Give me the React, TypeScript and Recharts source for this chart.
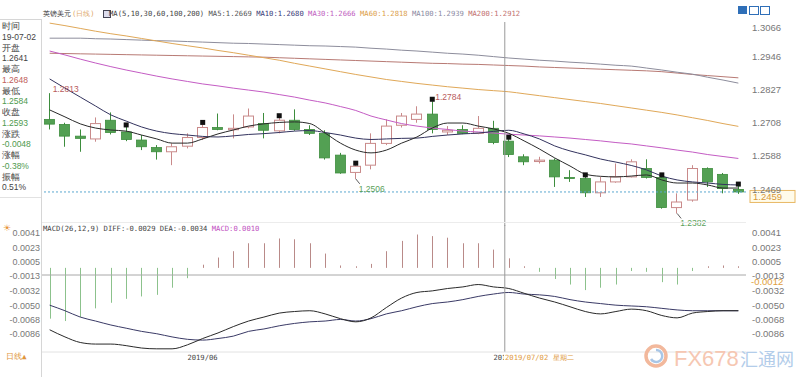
import React from 'react';
import { ComposedChart, Bar, Line, XAxis, YAxis, ReferenceLine } from 'recharts';

// ---------- data ----------
const dates = [
  '2019-05-21', '2019-05-22', '2019-05-23', '2019-05-24', '2019-05-27', '2019-05-28', '2019-05-29', '2019-05-30', '2019-05-31',
  '2019-06-03', '2019-06-04', '2019-06-05', '2019-06-06', '2019-06-07', '2019-06-10', '2019-06-11', '2019-06-12', '2019-06-13',
  '2019-06-14', '2019-06-17', '2019-06-18', '2019-06-19', '2019-06-20', '2019-06-21', '2019-06-24', '2019-06-25', '2019-06-26',
  '2019-06-27', '2019-06-28', '2019-07-01', '2019-07-02', '2019-07-03', '2019-07-04', '2019-07-05', '2019-07-08', '2019-07-09',
  '2019-07-10', '2019-07-11', '2019-07-12', '2019-07-15', '2019-07-16', '2019-07-17', '2019-07-18', '2019-07-19', '2019-07-22',
  '2019-07-23',
];
const opens = [1.2719, 1.2701, 1.2659, 1.2649, 1.2716, 1.2674, 1.2645, 1.2618, 1.2603, 1.2623, 1.2654, 1.2690, 1.2682, 1.2692, 1.2704, 1.2678, 1.2716, 1.2683, 1.2669, 1.2591, 1.2529, 1.2555, 1.2633, 1.2698, 1.2719, 1.2738, 1.2674, 1.2683, 1.2669, 1.2687, 1.2641, 1.2585, 1.2568, 1.2573, 1.2511, 1.2507, 1.2456, 1.2495, 1.2513, 1.2543, 1.2511, 1.2403, 1.2430, 1.2543, 1.2522, 1.2468];
const highs = [1.2813, 1.2707, 1.2683, 1.2726, 1.2744, 1.2692, 1.2663, 1.2627, 1.2633, 1.2669, 1.2701, 1.2740, 1.2737, 1.2758, 1.2742, 1.2725, 1.2755, 1.2698, 1.2680, 1.2599, 1.2555, 1.2669, 1.2719, 1.2742, 1.2766, 1.2784, 1.2695, 1.2698, 1.2731, 1.2714, 1.2648, 1.2594, 1.2585, 1.2579, 1.2537, 1.2513, 1.2513, 1.2561, 1.2576, 1.2576, 1.2513, 1.2454, 1.2555, 1.2547, 1.2527, 1.2480];
const lows = [1.2683, 1.2621, 1.2603, 1.2639, 1.2665, 1.2641, 1.2609, 1.2575, 1.2555, 1.2615, 1.2645, 1.2680, 1.2651, 1.2687, 1.2651, 1.2669, 1.2678, 1.2663, 1.2575, 1.2524, 1.2506, 1.2540, 1.2627, 1.2690, 1.2707, 1.2669, 1.2663, 1.2666, 1.2666, 1.2630, 1.2584, 1.2555, 1.2561, 1.2477, 1.2495, 1.2441, 1.2441, 1.2492, 1.2511, 1.2507, 1.2399, 1.2382, 1.2424, 1.2477, 1.2454, 1.2452];
const closes = [1.2702, 1.2659, 1.2651, 1.2704, 1.2672, 1.2647, 1.2621, 1.2603, 1.2621, 1.2654, 1.2690, 1.2683, 1.2687, 1.2731, 1.2680, 1.2716, 1.2683, 1.2669, 1.2581, 1.2527, 1.2551, 1.2633, 1.2695, 1.2731, 1.2738, 1.2683, 1.2680, 1.2669, 1.2687, 1.2636, 1.2593, 1.2567, 1.2573, 1.2513, 1.2507, 1.2456, 1.2495, 1.2513, 1.2567, 1.2511, 1.2403, 1.2423, 1.2543, 1.2495, 1.2471, 1.2459];

const ma5 = [1.2753, 1.2728, 1.2703, 1.2688, 1.2681, 1.2677, 1.2663, 1.2649, 1.2634, 1.2634, 1.2649, 1.2667, 1.2681, 1.2695, 1.2703, 1.2708, 1.2710, 1.2704, 1.2670, 1.2634, 1.2609, 1.2599, 1.2609, 1.2634, 1.2656, 1.2688, 1.2706, 1.2706, 1.2695, 1.2685, 1.2669, 1.2642, 1.2613, 1.2581, 1.2552, 1.2523, 1.2515, 1.2513, 1.2516, 1.2520, 1.2502, 1.2491, 1.2491, 1.2484, 1.2473, 1.2473];
const ma10 = [1.2864, 1.2831, 1.2799, 1.2767, 1.2735, 1.2713, 1.2692, 1.2677, 1.2668, 1.2663, 1.2658, 1.2656, 1.2660, 1.2665, 1.2668, 1.2672, 1.2677, 1.2679, 1.2672, 1.2663, 1.2652, 1.2647, 1.2649, 1.2651, 1.2652, 1.2658, 1.2663, 1.2667, 1.2670, 1.2676, 1.2680, 1.2667, 1.2649, 1.2624, 1.2606, 1.2592, 1.2577, 1.2566, 1.2554, 1.2538, 1.2516, 1.2502, 1.2495, 1.2491, 1.2486, 1.2484];
const ma30 = [1.2964, 1.2950, 1.2935, 1.2921, 1.2908, 1.2896, 1.2885, 1.2874, 1.2864, 1.2855, 1.2846, 1.2839, 1.2831, 1.2824, 1.2817, 1.2808, 1.2799, 1.2788, 1.2778, 1.2765, 1.2751, 1.2731, 1.2717, 1.2704, 1.2695, 1.2688, 1.2683, 1.2677, 1.2674, 1.2670, 1.2666, 1.2663, 1.2660, 1.2656, 1.2652, 1.2647, 1.2642, 1.2636, 1.2631, 1.2624, 1.2617, 1.2609, 1.2602, 1.2593, 1.2586, 1.2579];
const ma60 = [1.3064, 1.3055, 1.3045, 1.3035, 1.3026, 1.3018, 1.3009, 1.3000, 1.2991, 1.2983, 1.2975, 1.2966, 1.2958, 1.2949, 1.2940, 1.2931, 1.2920, 1.2910, 1.2900, 1.2890, 1.2880, 1.2871, 1.2862, 1.2855, 1.2848, 1.2842, 1.2836, 1.2831, 1.2826, 1.2822, 1.2818, 1.2811, 1.2804, 1.2797, 1.2790, 1.2783, 1.2776, 1.2768, 1.2760, 1.2752, 1.2744, 1.2735, 1.2725, 1.2715, 1.2704, 1.2694];
const ma100 = [1.3010, 1.3010, 1.3010, 1.3008, 1.3007, 1.3005, 1.3003, 1.3001, 1.3000, 1.2998, 1.2996, 1.2994, 1.2992, 1.2991, 1.2989, 1.2987, 1.2985, 1.2983, 1.2982, 1.2980, 1.2978, 1.2974, 1.2971, 1.2967, 1.2964, 1.2960, 1.2956, 1.2953, 1.2949, 1.2944, 1.2939, 1.2935, 1.2931, 1.2928, 1.2924, 1.2921, 1.2917, 1.2913, 1.2910, 1.2903, 1.2896, 1.2888, 1.2881, 1.2870, 1.2860, 1.2849];
const ma200 = [1.2956, 1.2955, 1.2954, 1.2953, 1.2952, 1.2951, 1.2950, 1.2949, 1.2948, 1.2947, 1.2946, 1.2945, 1.2944, 1.2943, 1.2942, 1.2940, 1.2938, 1.2936, 1.2934, 1.2932, 1.2930, 1.2928, 1.2926, 1.2924, 1.2922, 1.2920, 1.2919, 1.2917, 1.2916, 1.2914, 1.2912, 1.2910, 1.2907, 1.2905, 1.2903, 1.2901, 1.2899, 1.2897, 1.2895, 1.2893, 1.2890, 1.2885, 1.2880, 1.2876, 1.2872, 1.2868];

const macdHist = [-0.0064, -0.0067, -0.0062, -0.0051, -0.0044, -0.0039, -0.0036, -0.0034, -0.0025, -0.0013, 0.0004, 0.0013, 0.0021, 0.0031, 0.0031, 0.0037, 0.0036, 0.0031, 0.0018, 0.0003, 0.0002, 0.0005, 0.0021, 0.0034, 0.0042, 0.0040, 0.0038, 0.0031, 0.0031, 0.0023, 0.0012, 0.0002, -0.0005, -0.0014, -0.0021, -0.0028, -0.0025, -0.0021, -0.0004, -0.0005, -0.0018, -0.0021, -0.0004, 0.0002, 0.0003, 0.0002];
const diff = [-0.0081, -0.0090, -0.0097, -0.0099, -0.0099, -0.0101, -0.0104, -0.0105, -0.0105, -0.0100, -0.0092, -0.0085, -0.0077, -0.0070, -0.0065, -0.0060, -0.0058, -0.0057, -0.0061, -0.0067, -0.0071, -0.0066, -0.0053, -0.0041, -0.0034, -0.0032, -0.0029, -0.0027, -0.0024, -0.0027, -0.0029, -0.0035, -0.0041, -0.0046, -0.0052, -0.0058, -0.0061, -0.0058, -0.0055, -0.0057, -0.0063, -0.0066, -0.0060, -0.0058, -0.0057, -0.0057];
const dea = [-0.0050, -0.0057, -0.0065, -0.0070, -0.0075, -0.0079, -0.0083, -0.0086, -0.0090, -0.0093, -0.0094, -0.0092, -0.0089, -0.0083, -0.0080, -0.0076, -0.0073, -0.0071, -0.0070, -0.0068, -0.0070, -0.0067, -0.0061, -0.0057, -0.0052, -0.0048, -0.0046, -0.0043, -0.0039, -0.0036, -0.0034, -0.0036, -0.0037, -0.0039, -0.0043, -0.0046, -0.0048, -0.0050, -0.0051, -0.0052, -0.0054, -0.0056, -0.0057, -0.0057, -0.0057, -0.0057];

const priceTicks = [1.2469, 1.2588, 1.2708, 1.2827, 1.2946, 1.3066];
const priceDomain = [1.2337, 1.3068];
const macdTicks = [0.0041, 0.0023, 0.0005, -0.0013, -0.0032, -0.005, -0.0068, -0.0086];
const macdDomain = [-0.0109, 0.0051];
const histDomain = [-0.0106, 0.0054];
const markerIdx = [5, 10, 15, 20, 25, 30, 35, 40, 45];
const highLabelIdx = [0, 25];
const lowLabelIdx = [20, 41];
const monthTicks = ['2019-06-03', '2019-07-01'];
const monthLabels = ['2019/06', '2019/07'];
const crossIdx = 30;
const crossDateLabel = '2019/07/02 星期二';
const currentPrice = 1.2459;
const crossMacd = -0.0012;

const infoLabels = ['时间', '开盘', '最高', '最低', '收盘', '涨跌', '涨幅', '振幅'];
const infoValues = ['19-07-02', '1.2641', '1.2648', '1.2584', '1.2593', '-0.0048', '-0.38%', '0.51%'];
const infoColors = ['#444', '#444', '#c0605a', '#4e9a4e', '#4e9a4e', '#4e9a4e', '#4e9a4e', '#444'];

const maHeader = [
  { t: 'MA5:1.2669', c: '#555' },
  { t: 'MA10:1.2680', c: '#3a3a78' },
  { t: 'MA30:1.2666', c: '#c05ec0' },
  { t: 'MA60:1.2818', c: '#dca04a' },
  { t: 'MA100:1.2939', c: '#8a8aa2' },
  { t: 'MA200:1.2912', c: '#c27070' },
];

// ---------- styles ----------
const MONO = '"DejaVu Sans Mono", "Liberation Mono", monospace';
const SANS = '"Liberation Sans", Arial, sans-serif';
const UP = '#c98a8a';
const DOWN_FILL = '#53a053';
const DOWN_STROKE = '#3d8d3d';
const C_MA5 = '#2a2a2a';
const C_MA10 = '#33335e';
const C_MA30 = '#c45cc4';
const C_MA60 = '#e0a858';
const C_MA100 = '#8d8d9c';
const C_MA200 = '#b87a74';

const priceRows = dates.map((d, i) => ({
  date: d,
  range: [lows[i], highs[i]],
  open: opens[i],
  high: highs[i],
  low: lows[i],
  close: closes[i],
  ma5: ma5[i],
  ma10: ma10[i],
  ma30: ma30[i],
  ma60: ma60[i],
  ma100: ma100[i],
  ma200: ma200[i],
  mark: markerIdx.includes(i) ? highs[i] : null,
  hiLab: highLabelIdx.includes(i) ? highs[i] : null,
  loLab: lowLabelIdx.includes(i) ? lows[i] : null,
}));

const macdRows = dates.map((d, i) => ({ date: d, hist: macdHist[i], diff: diff[i], dea: dea[i] }));

function Candle(props: any) {
  const { x, y, width, height, payload } = props;
  if (!payload || x == null || y == null) return <g />;
  const { open, close, high, low } = payload;
  const top = Math.min(y, y + height);
  const bot = Math.max(y, y + height);
  const k = high > low ? (bot - top) / (high - low) : 0;
  const py = (v: number) => top + (high - v) * k;
  const left = Math.round(x) + 0.5;
  const w = Math.round(width) - 1;
  const cx = left + Math.round(w / 2);
  const bTop = py(Math.max(open, close));
  const bBot = py(Math.min(open, close));
  const bh = Math.max(1, bBot - bTop);
  if (close > open) {
    return (
      <g>
        <line x1={cx} x2={cx} y1={top} y2={bTop} stroke={UP} />
        <line x1={cx} x2={cx} y1={bTop + bh} y2={bot} stroke={UP} />
        <rect x={left} y={bTop} width={w} height={bh} fill="#fff" stroke={UP} />
      </g>
    );
  }
  return (
    <g>
      <line x1={cx} x2={cx} y1={top} y2={bot} stroke={DOWN_STROKE} />
      <rect x={left} y={bTop} width={w} height={bh} fill={DOWN_FILL} stroke={DOWN_STROKE} strokeWidth={0.8} />
    </g>
  );
}

function HistBar(props: any) {
  const { x, y, width, height, payload } = props;
  if (!payload || x == null || y == null) return <g />;
  const cx = Math.round(x + width / 2) + 0.5;
  return (
    <line x1={cx} x2={cx} y1={y} y2={y + height} stroke={payload.hist >= 0 ? '#b98a88' : '#8cc28c'} strokeWidth={1} />
  );
}

const markDot = (p: any) => {
  const { cx, cy, payload, index } = p;
  if (!payload || payload.mark == null || cy == null || isNaN(cy)) return <g key={`m${index}`} />;
  return <rect key={`m${index}`} x={cx - 2.5} y={cy - 4.5} width={5} height={5} fill="#111" />;
};

const hiDot = (p: any) => {
  const { cx, cy, payload, index } = p;
  if (!payload || payload.hiLab == null || cy == null || isNaN(cy)) return <g key={`h${index}`} />;
  return (
    <text key={`h${index}`} x={cx + 3} y={cy - 1} fontSize={8.5} fill="#b85c5c" fontFamily={SANS}>
      {payload.hiLab.toFixed(4)}
    </text>
  );
};

const loDot = (p: any) => {
  const { cx, cy, payload, index } = p;
  if (!payload || payload.loLab == null || cy == null || isNaN(cy)) return <g key={`l${index}`} />;
  return (
    <g key={`l${index}`}>
      <line x1={cx} y1={cy} x2={cx + 4} y2={cy + 5} stroke="#333" strokeWidth={0.8} />
      <text x={cx + 3} y={cy + 13} fontSize={8.5} fill="#5a9f5a" fontFamily={SANS}>
        {payload.loLab.toFixed(4)}
      </text>
    </g>
  );
};

const PriceTick = (p: any) => {
  const { x, y, payload } = p;
  const isTop = payload.value >= priceTicks[priceTicks.length - 1];
  return (
    <text x={x} y={y} dy={isTop ? 8 : 3.5} textAnchor="start" fontSize={9.5} fill="#777" fontFamily={SANS}>
      {Number(payload.value).toFixed(4)}
    </text>
  );
};

const MacdTickL = (p: any) => {
  const { x, y, payload } = p;
  return (
    <text x={x} y={y} dy={3.5} textAnchor="end" fontSize={9} fill="#777" fontFamily={SANS}>
      {Number(payload.value).toFixed(4)}
    </text>
  );
};

const MacdTickR = (p: any) => {
  const { x, y, payload } = p;
  return (
    <text x={x} y={y} dy={3.5} textAnchor="start" fontSize={9.5} fill="#777" fontFamily={SANS}>
      {Number(payload.value).toFixed(4)}
    </text>
  );
};

const DateTick = (p: any) => {
  const { x, y, payload } = p;
  const idx = monthTicks.indexOf(payload.value);
  return (
    <text x={x} y={y} dy={0} textAnchor="start" fontSize={7.2} fill="#444" fontFamily={MONO}>
      {idx >= 0 ? monthLabels[idx] : ''}
    </text>
  );
};

const vLine = (p: any) => (
  <line x1={p.x1 - 4} x2={p.x2 - 4} y1={p.y1} y2={p.y2} stroke="#9a9a9a" strokeWidth={1} />
);

const priceLabel = (p: any) => {
  const vb = p.viewBox || {};
  const rx = vb.x + vb.width + 4;
  return (
    <g>
      <rect x={rx} y={vb.y - 1.5} width={45} height={12} fill="#fffbea" stroke="#e8b865" strokeWidth={1} />
      <text x={rx + 3} y={vb.y + 8} fontSize={9.5} fill="#d89a3a" fontFamily={SANS}>
        {currentPrice.toFixed(4)}
      </text>
    </g>
  );
};

const macdCrossLabel = (p: any) => {
  const vb = p.viewBox || {};
  const rx = vb.x + vb.width + 3;
  return (
    <g>
      <rect x={rx} y={vb.y + 1.5} width={48} height={10} fill="#fff" />
      <text x={rx + 2} y={vb.y + 10} fontSize={9.5} fill="#e0a040" fontFamily={SANS}>
        {crossMacd.toFixed(4)}
      </text>
    </g>
  );
};

const abs = (l: number, t: number, extra: any = {}) => ({ position: 'absolute' as const, left: l, top: t, ...extra });

export default function App() {
  return (
    <div style={{ position: 'absolute', left: 0, top: 0, width: 800, height: 377, background: '#fff', overflow: 'hidden', fontFamily: SANS }}>
      {/* price panel */}
      <div style={abs(0, 0)}>
        <ComposedChart width={800} height={240} data={priceRows} margin={{ top: 22, right: 0, bottom: 14, left: 42 }}>
          <XAxis dataKey="date" hide />
          <YAxis
            orientation="right"
            width={54}
            domain={priceDomain}
            ticks={priceTicks}
            interval={0}
            allowDataOverflow
            tick={<PriceTick />}
            tickLine={false}
            axisLine={false}
            tickSize={0}
            tickMargin={6}
          />
          <ReferenceLine y={currentPrice} stroke="#5aa8cf" strokeDasharray="2 2" label={priceLabel} />
          <Line dataKey="ma200" type="monotone" stroke={C_MA200} strokeWidth={1} dot={false} activeDot={false} isAnimationActive={false} />
          <Line dataKey="ma100" type="monotone" stroke={C_MA100} strokeWidth={1} dot={false} activeDot={false} isAnimationActive={false} />
          <Line dataKey="ma60" type="monotone" stroke={C_MA60} strokeWidth={1} dot={false} activeDot={false} isAnimationActive={false} />
          <Line dataKey="ma30" type="monotone" stroke={C_MA30} strokeWidth={1} dot={false} activeDot={false} isAnimationActive={false} />
          <Bar dataKey="range" barSize={11} shape={(p: any) => <Candle {...p} />} isAnimationActive={false} />
          <Line dataKey="ma10" type="monotone" stroke={C_MA10} strokeWidth={1} dot={false} activeDot={false} isAnimationActive={false} />
          <Line dataKey="ma5" type="monotone" stroke={C_MA5} strokeWidth={1} dot={false} activeDot={false} isAnimationActive={false} />
          <Line dataKey="mark" stroke="none" dot={markDot} activeDot={false} isAnimationActive={false} />
          <Line dataKey="hiLab" stroke="none" dot={hiDot} activeDot={false} isAnimationActive={false} />
          <Line dataKey="loLab" stroke="none" dot={loDot} activeDot={false} isAnimationActive={false} />
          <ReferenceLine x={dates[crossIdx]} shape={vLine} />
        </ComposedChart>
      </div>

      {/* MACD panel */}
      <div style={abs(0, 220)}>
        <ComposedChart width={800} height={157} data={macdRows} margin={{ top: 5, right: 0, bottom: 0, left: 0 }}>
          <XAxis
            dataKey="date"
            ticks={monthTicks}
            interval={0}
            tick={<DateTick />}
            tickLine={false}
            axisLine={{ stroke: '#e2e2e2' }}
            tickSize={0}
            tickMargin={8}
            height={25}
          />
          <YAxis
            yAxisId="m"
            orientation="left"
            width={42}
            domain={macdDomain}
            ticks={macdTicks}
            interval={0}
            allowDataOverflow
            tick={<MacdTickL />}
            tickLine={false}
            axisLine={false}
            tickSize={0}
            tickMargin={2}
          />
          <YAxis
            yAxisId="r"
            orientation="right"
            width={54}
            domain={macdDomain}
            ticks={macdTicks}
            interval={0}
            allowDataOverflow
            tick={<MacdTickR />}
            tickLine={false}
            axisLine={false}
            tickSize={0}
            tickMargin={6}
          />
          <YAxis yAxisId="hist" orientation="right" hide width={0} domain={histDomain} allowDataOverflow />
          <ReferenceLine yAxisId="m" y={crossMacd} stroke="#a8a8a8" label={macdCrossLabel} />
          <Bar yAxisId="hist" dataKey="hist" barSize={1} shape={(p: any) => <HistBar {...p} />} isAnimationActive={false} />
          <Line yAxisId="m" dataKey="dea" type="monotone" stroke="#3a3a66" strokeWidth={1} dot={false} activeDot={false} isAnimationActive={false} />
          <Line yAxisId="r" dataKey="diff" type="monotone" stroke="#2a2a2a" strokeWidth={1} dot={false} activeDot={false} isAnimationActive={false} />
          <ReferenceLine yAxisId="m" x={dates[crossIdx]} shape={vLine} />
        </ComposedChart>
      </div>

      {/* crosshair date label (drawn over the date axis) */}
      <div style={abs(504, 353, { background: '#fff', padding: '0 1px', fontFamily: MONO, fontSize: 7.2, lineHeight: '10px', color: '#e09a40', whiteSpace: 'pre' })}>
        {crossDateLabel}
      </div>

      {/* borders */}
      <div style={abs(41, 19, { width: 1, height: 358, background: '#d6d6d6' })} />
      <div style={abs(0, 19, { width: 41, height: 1, background: '#d6d6d6' })} />
      <div style={abs(0, 197, { width: 41, height: 1, background: '#e2e2e2' })} />
      <div style={abs(42, 222, { width: 704, height: 1, background: '#ececec' })} />

      {/* header */}
      <div style={abs(43, 9, { fontFamily: MONO, fontSize: 7.2, lineHeight: '10px', color: '#333', whiteSpace: 'pre' })}>
        英镑美元
      </div>
      <div style={abs(72, 9, { fontFamily: MONO, fontSize: 7.2, lineHeight: '10px', color: '#e0a868', whiteSpace: 'pre' })}>
        (日线)
      </div>
      <div style={abs(103, 10, { width: 6, height: 6, border: '1px solid #445', background: '#dde' })} />
      <div style={abs(109, 9, { fontFamily: MONO, fontSize: 7.2, lineHeight: '10px', color: '#444', whiteSpace: 'pre' })}>
        <span>MA(5,10,30,60,100,200)</span>
        {maHeader.map((m) => (
          <span key={m.t} style={{ color: m.c }}>{' ' + m.t}</span>
        ))}
      </div>

      {/* top right icons */}
      <div style={abs(738, 6, { width: 9, height: 8, background: '#2f6fb8' })} />
      <div style={abs(749, 6, { width: 8, height: 7, border: '1px solid #2f6fb8' })} />
      <div style={abs(760, 6, { width: 8, height: 7, border: '1px solid #2f6fb8' })} />

      {/* left info panel */}
      {infoLabels.map((lab, k) => (
        <React.Fragment key={lab}>
          <div style={abs(2, 21 + k * 2 * 10.75, { fontSize: 8.5, lineHeight: '10px', color: '#444', fontFamily: SANS })}>{lab}</div>
          <div style={abs(2, 21 + (k * 2 + 1) * 10.75, { fontSize: 8.5, lineHeight: '10px', color: infoColors[k], fontFamily: SANS })}>
            {infoValues[k]}
          </div>
        </React.Fragment>
      ))}

      {/* MACD header */}
      <div style={abs(3, 223, { fontSize: 9, lineHeight: '10px', color: '#e8953a' })}>☀</div>
      <div style={abs(43, 224, { fontFamily: MONO, fontSize: 7.2, lineHeight: '10px', color: '#444', whiteSpace: 'pre' })}>
        MACD(26,12,9) DIFF:-0.0029 DEA:-0.0034 <span style={{ color: '#c050c0' }}>MACD:0.0010</span>
      </div>

      {/* bottom left */}
      <div style={abs(6, 352, { fontFamily: MONO, fontSize: 7.5, lineHeight: '10px', color: '#e0963a', whiteSpace: 'pre' })}>日线▲</div>

      {/* watermark */}
      <svg style={abs(640, 338)} width={160} height={36}>
        <circle cx={16} cy={18} r={10} fill="none" stroke="#f2b89c" strokeWidth={3.5} />
        <path d="M16 12 a6 6 0 1 1 -5 9" fill="none" stroke="#a9c6e6" strokeWidth={2.5} />
        <text x={34} y={28} fontSize={22} fill="#f6c7b2" fontFamily={SANS}>FX678</text>
        <text x={100} y={28} fontSize={18} fill="#b3cdea" fontFamily='"Noto Sans CJK SC", sans-serif'>汇通网</text>
      </svg>
    </div>
  );
}
